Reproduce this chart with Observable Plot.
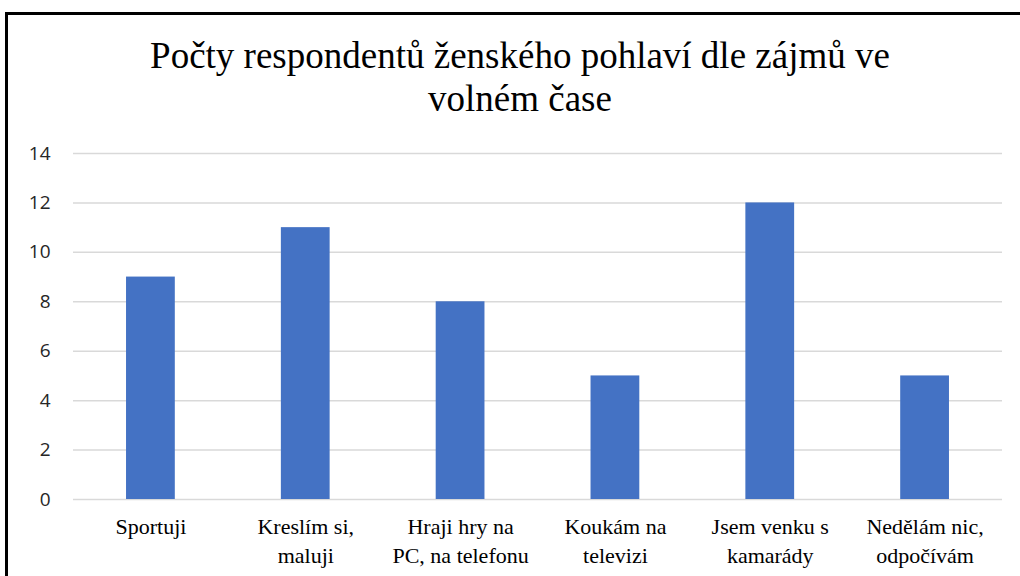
<!DOCTYPE html>
<html>
<head>
<meta charset="utf-8">
<script src="https://cdn.jsdelivr.net/npm/d3@7"></script>
<script src="https://cdn.jsdelivr.net/npm/@observablehq/plot@0.6"></script>
<style>
  body { margin: 0; background: #fff; }
  #wrap { position: relative; width: 1020px; height: 576px; overflow: hidden; background: #fff; }
  #title { position: absolute; left: 0; top: 0; width: 1020px; height: 140px; box-sizing: border-box;
    padding-top: 34px; padding-left: 20px; text-align: center;
    font-family: "Liberation Serif", "DejaVu Serif", serif; font-size: 37px; line-height: 43px; color: #000; }
  #chart { position: absolute; left: 0; top: 140px; }
  .bt { position: absolute; left: 5px; top: 12px; width: 1015px; height: 3px; background: #000; }
  .bl { position: absolute; left: 5px; top: 12px; width: 3px; height: 564px; background: #000; }
</style>
</head>
<body>
<div id="wrap">
  <div id="title">Počty respondentů ženského pohlaví dle zájmů ve<br>volném čase</div>
  <div id="chart"></div>
  <div class="bt"></div>
  <div class="bl"></div>
</div>
<script>
const categories = [
  "Sportuji",
  "Kreslím si,\nmaluji",
  "Hraji hry na\nPC, na telefonu",
  "Koukám na\ntelevizi",
  "Jsem venku s\nkamarády",
  "Nedělám nic,\nodpočívám"
];
const counts = [9, 11, 8, 5, 12, 5];
const yTicks = [0, 2, 4, 6, 8, 10, 12, 14];

const data = categories.map((c, i) => ({category: c, value: counts[i]}));

const plot = Plot.plot({
  width: 1020,
  height: 436,
  marginTop: 13,
  marginBottom: 77,
  marginLeft: 73,
  marginRight: 18,
  style: { background: "transparent", overflow: "visible" },
  x: { domain: categories, paddingInner: 0.685, paddingOuter: 0.3425, round: false, label: null },
  y: { domain: [0, 14], label: null },
  marks: [
    Plot.ruleY(yTicks, { stroke: "#d9d9d9", strokeWidth: 1.5 }),
    Plot.barY(data, { x: "category", y: "value", fill: "#4472c4" }),
    Plot.axisY({ ticks: yTicks, tickSize: 0, tickPadding: 23, label: null,
      fontSize: 19, fill: "#262626", fontFamily: "'Open Sans', 'Liberation Sans', sans-serif" }),
    Plot.axisX({ tickSize: 0, tickPadding: 13, label: null, lineHeight: 1.35,
      fontSize: 22, fill: "#000", fontFamily: "'Liberation Serif', serif", textOverflow: null })
  ]
});
document.getElementById("chart").appendChild(plot);
</script>
</body>
</html>
